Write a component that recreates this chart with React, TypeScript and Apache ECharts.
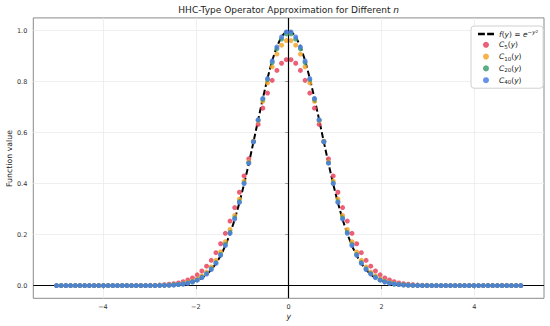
import React, { useEffect, useRef } from 'react';
import * as echarts from 'echarts';

// sample positions y_k (100 points from -5 to 5)
const xValues = [
  -5.0, -4.899, -4.798, -4.697, -4.596, -4.495, -4.394, -4.293, -4.192, -4.091,
  -3.990, -3.889, -3.788, -3.687, -3.586, -3.485, -3.384, -3.283, -3.182, -3.081,
  -2.980, -2.879, -2.778, -2.677, -2.576, -2.475, -2.374, -2.273, -2.172, -2.071,
  -1.970, -1.869, -1.768, -1.667, -1.566, -1.465, -1.364, -1.263, -1.162, -1.061,
  -0.960, -0.859, -0.758, -0.657, -0.556, -0.455, -0.354, -0.253, -0.152, -0.051,
  0.051, 0.152, 0.253, 0.354, 0.455, 0.556, 0.657, 0.758, 0.859, 0.960,
  1.061, 1.162, 1.263, 1.364, 1.465, 1.566, 1.667, 1.768, 1.869, 1.970,
  2.071, 2.172, 2.273, 2.374, 2.475, 2.576, 2.677, 2.778, 2.879, 2.980,
  3.081, 3.182, 3.283, 3.384, 3.485, 3.586, 3.687, 3.788, 3.889, 3.990,
  4.091, 4.192, 4.293, 4.394, 4.495, 4.596, 4.697, 4.798, 4.899, 5.0,
];

// exact function f(y)
const fValues = [
  0, 0, 0, 0, 0, 0, 0, 0, 0, 0,
  0, 0, 0, 0, 0, 0, 0, 0, 0, 0,
  0, 0, 0, 0.001, 0.001, 0.002, 0.004, 0.006, 0.009, 0.014,
  0.021, 0.030, 0.044, 0.062, 0.086, 0.117, 0.156, 0.203, 0.259, 0.325,
  0.398, 0.478, 0.563, 0.650, 0.734, 0.813, 0.883, 0.938, 0.977, 0.997,
  0.997, 0.977, 0.938, 0.883, 0.813, 0.734, 0.650, 0.563, 0.478, 0.398,
  0.325, 0.259, 0.203, 0.156, 0.117, 0.086, 0.062, 0.044, 0.030, 0.021,
  0.014, 0.009, 0.006, 0.004, 0.002, 0.001, 0.001, 0, 0, 0,
  0, 0, 0, 0, 0, 0, 0, 0, 0, 0,
  0, 0, 0, 0, 0, 0, 0, 0, 0, 0,
];

const c5Values = [
  0, 0, 0, 0, 0, 0, 0, 0, 0, 0,
  0, 0, 0, 0, 0, 0, 0, 0, 0, 0,
  0.001, 0.001, 0.002, 0.003, 0.005, 0.007, 0.010, 0.015, 0.022, 0.030,
  0.042, 0.057, 0.076, 0.099, 0.129, 0.164, 0.205, 0.253, 0.306, 0.366,
  0.430, 0.497, 0.565, 0.632, 0.696, 0.755, 0.805, 0.844, 0.872, 0.886,
  0.886, 0.872, 0.844, 0.805, 0.755, 0.696, 0.632, 0.565, 0.497, 0.430,
  0.366, 0.306, 0.253, 0.205, 0.164, 0.129, 0.099, 0.076, 0.057, 0.042,
  0.030, 0.022, 0.015, 0.010, 0.007, 0.005, 0.003, 0.002, 0.001, 0.001,
  0, 0, 0, 0, 0, 0, 0, 0, 0, 0,
  0, 0, 0, 0, 0, 0, 0, 0, 0, 0,
];

const c10Values = [
  0, 0, 0, 0, 0, 0, 0, 0, 0, 0,
  0, 0, 0, 0, 0, 0, 0, 0, 0, 0,
  0, 0, 0.001, 0.001, 0.002, 0.003, 0.005, 0.008, 0.012, 0.018,
  0.026, 0.038, 0.053, 0.073, 0.099, 0.132, 0.172, 0.220, 0.275, 0.339,
  0.410, 0.486, 0.566, 0.646, 0.723, 0.795, 0.858, 0.908, 0.943, 0.961,
  0.961, 0.943, 0.908, 0.858, 0.795, 0.723, 0.646, 0.566, 0.486, 0.410,
  0.339, 0.275, 0.220, 0.172, 0.132, 0.099, 0.073, 0.053, 0.038, 0.026,
  0.018, 0.012, 0.008, 0.005, 0.003, 0.002, 0.001, 0.001, 0, 0,
  0, 0, 0, 0, 0, 0, 0, 0, 0, 0,
  0, 0, 0, 0, 0, 0, 0, 0, 0, 0,
];

const c20Values = [
  0, 0, 0, 0, 0, 0, 0, 0, 0, 0,
  0, 0, 0, 0, 0, 0, 0, 0, 0, 0,
  0, 0, 0.001, 0.001, 0.002, 0.003, 0.004, 0.006, 0.010, 0.015,
  0.022, 0.033, 0.047, 0.066, 0.090, 0.122, 0.161, 0.208, 0.265, 0.329,
  0.402, 0.481, 0.564, 0.649, 0.731, 0.808, 0.875, 0.929, 0.967, 0.987,
  0.987, 0.967, 0.929, 0.875, 0.808, 0.731, 0.649, 0.564, 0.481, 0.402,
  0.329, 0.265, 0.208, 0.161, 0.122, 0.090, 0.066, 0.047, 0.033, 0.022,
  0.015, 0.010, 0.006, 0.004, 0.003, 0.002, 0.001, 0.001, 0, 0,
  0, 0, 0, 0, 0, 0, 0, 0, 0, 0,
  0, 0, 0, 0, 0, 0, 0, 0, 0, 0,
];

const c40Values = [
  0, 0, 0, 0, 0, 0, 0, 0, 0, 0,
  0, 0, 0, 0, 0, 0, 0, 0, 0, 0,
  0, 0, 0, 0.001, 0.001, 0.002, 0.004, 0.006, 0.009, 0.014,
  0.021, 0.031, 0.045, 0.063, 0.087, 0.119, 0.157, 0.205, 0.261, 0.326,
  0.400, 0.480, 0.564, 0.650, 0.734, 0.812, 0.881, 0.936, 0.975, 0.995,
  0.995, 0.975, 0.936, 0.881, 0.812, 0.734, 0.650, 0.564, 0.480, 0.400,
  0.326, 0.261, 0.205, 0.157, 0.119, 0.087, 0.063, 0.045, 0.031, 0.021,
  0.014, 0.009, 0.006, 0.004, 0.002, 0.001, 0.001, 0, 0, 0,
  0, 0, 0, 0, 0, 0, 0, 0, 0, 0,
  0, 0, 0, 0, 0, 0, 0, 0, 0, 0,
];

const xTicks = [-4, -2, 0, 2, 4];
const yTicks = [0, 0.2, 0.4, 0.6, 0.8, 1.0];
const seriesNames = ['f', 'C5', 'C10', 'C20', 'C40'];
const subscripts: Record<string, string> = { C5: '5', C10: '10', C20: '20', C40: '40' };

const FONT = 'DejaVu Sans';

export default function App() {
  const ref = useRef<HTMLDivElement>(null);
  useEffect(() => {
    const chart = echarts.init(ref.current!, null, { renderer: 'svg' });
    const pairs = (ys: number[]) => xValues.map((x, i) => [x, ys[i]]);
    const scatter = (name: string, ys: number[], color: string, z: number) => ({
      type: 'scatter',
      name,
      data: pairs(ys),
      symbol: 'circle',
      symbolSize: 5,
      itemStyle: { color, opacity: 0.85 },
      z,
      silent: true,
    });
    const legendRich = {
      it: { fontStyle: 'italic', fontSize: 7.5, fontFamily: FONT, color: '#222', lineHeight: 10 },
      rm: { fontSize: 7.5, fontFamily: FONT, color: '#222', lineHeight: 10 },
      sub: { fontSize: 5.5, fontFamily: FONT, color: '#222', lineHeight: 6, verticalAlign: 'bottom' },
      sup: { fontSize: 5.5, fontFamily: FONT, color: '#222', lineHeight: 6, verticalAlign: 'top' },
      supi: { fontSize: 5.5, fontStyle: 'italic', fontFamily: FONT, color: '#222', lineHeight: 6, verticalAlign: 'top' },
      sup2: { fontSize: 4.2, fontFamily: FONT, color: '#222', lineHeight: 4, verticalAlign: 'top' },
    };
    const legendData = seriesNames.map((n) =>
      n === 'f' ? { name: n, icon: 'path://M0,0H6V2H0Z M8,0H14V2H8Z' } : { name: n }
    );
    chart.setOption({
      animation: false,
      backgroundColor: '#ffffff',
      textStyle: { fontFamily: FONT },
      grid: {
        left: 33.3,
        right: 6,
        top: 17.9,
        bottom: 27.7,
        containLabel: false,
        outerBoundsMode: 'none',
        show: true,
        borderColor: '#8a8a8a',
        borderWidth: 1,
        backgroundColor: 'transparent',
      },
      graphic: [
        {
          type: 'text',
          x: 288.7,
          y: 9.5,
          silent: true,
          style: {
            text: 'HHC-Type Operator Approximation for Different {i|n}',
            fontSize: 9,
            fontFamily: FONT,
            fill: '#222',
            align: 'center',
            verticalAlign: 'middle',
            rich: { i: { fontStyle: 'italic', fontSize: 9, fontFamily: FONT, fill: '#222' } },
          },
        },
        {
          type: 'text',
          x: 9.5,
          y: 158.5,
          rotation: Math.PI / 2,
          silent: true,
          style: {
            text: 'Function value',
            fontSize: 7.8,
            fontFamily: FONT,
            fill: '#222',
            align: 'center',
            verticalAlign: 'middle',
          },
        },
        {
          type: 'text',
          x: 288.7,
          y: 316.5,
          silent: true,
          style: {
            text: 'y',
            fontSize: 7.8,
            fontStyle: 'italic',
            fontFamily: FONT,
            fill: '#222',
            align: 'center',
            verticalAlign: 'middle',
          },
        },
      ],
      legend: {
        show: true,
        data: legendData,
        orient: 'vertical',
        left: 471,
        top: 26,
        padding: [3, 5, 3, 7],
        itemWidth: 16,
        itemHeight: 6,
        itemGap: 2.8,
        symbolKeepAspect: true,
        backgroundColor: 'rgba(255,255,255,0.85)',
        borderColor: '#d0d0d0',
        borderWidth: 1,
        borderRadius: 3,
        textStyle: { fontSize: 7.5, fontFamily: FONT, color: '#222', rich: legendRich },
        formatter: (name: string) =>
          name === 'f'
            ? '{it|f}{rm|(}{it|y}{rm|) = }{it|e}{sup|−}{supi|y}{sup2|2}'
            : '{it|C}{sub|' + subscripts[name] + '}{rm|(}{it|y}{rm|)}',
      },
      xAxis: {
        type: 'value',
        min: -5.5,
        max: 5.5,
        axisLine: { show: false },
        axisTick: { show: true, customValues: xTicks, length: 3.5, lineStyle: { color: '#8a8a8a', width: 0.8 } },
        axisLabel: {
          customValues: xTicks,
          fontSize: 6.5,
          fontFamily: FONT,
          color: '#333',
          margin: 5,
          formatter: (v: number) => (v < 0 ? '−' + Math.abs(v) : String(v)),
        },
        splitLine: { show: true, lineStyle: { color: '#ebebeb', width: 0.8 } },
      },
      yAxis: {
        type: 'value',
        min: -0.05,
        max: 1.05,
        axisLine: { show: false },
        axisTick: { show: true, customValues: yTicks, length: 3.5, lineStyle: { color: '#8a8a8a', width: 0.8 } },
        axisLabel: {
          customValues: yTicks,
          fontSize: 6.5,
          fontFamily: FONT,
          color: '#333',
          margin: 6,
          formatter: (v: number) => v.toFixed(1),
        },
        splitLine: { show: true, lineStyle: { color: '#ebebeb', width: 0.8 } },
      },
      series: [
        {
          type: 'line',
          name: 'f',
          data: pairs(fValues),
          symbol: 'none',
          showSymbol: false,
          z: 2,
          silent: true,
          color: '#000',
          itemStyle: { color: '#000' },
          lineStyle: { color: '#000', width: 2, type: [6, 3] },
          markLine: {
            silent: true,
            symbol: ['none', 'none'],
            label: { show: false },
            lineStyle: { color: '#000', width: 1.2, type: 'solid' },
            data: [{ yAxis: 0 }, { xAxis: 0 }],
          },
        },
        scatter('C5', c5Values, '#e8435f', 3),
        scatter('C10', c10Values, '#f5a42c', 4),
        scatter('C20', c20Values, '#3f9f70', 5),
        scatter('C40', c40Values, '#4d7fe0', 6),
      ],
    });
    return () => chart.dispose();
  }, []);
  return (
    <div
      ref={ref}
      style={{ position: 'fixed', left: 0, top: 0, width: 550, height: 326, background: '#fff' }}
    />
  );
}
